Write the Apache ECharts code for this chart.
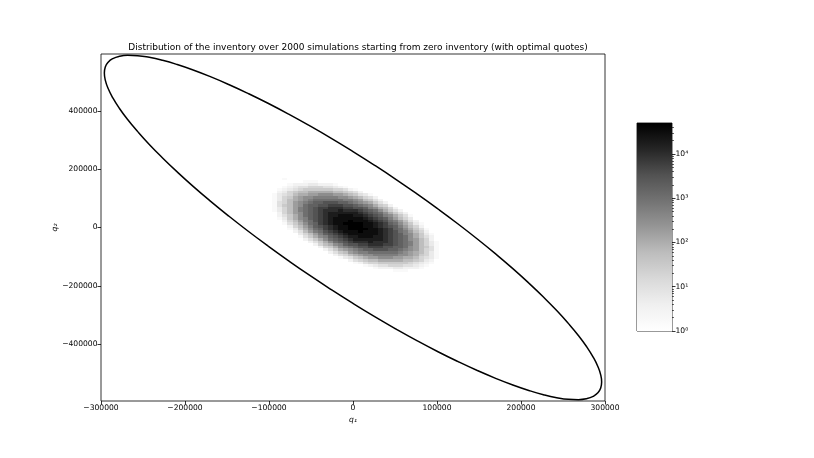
<!DOCTYPE html>
<html>
<head>
<meta charset="utf-8">
<script src="https://cdn.jsdelivr.net/npm/echarts@6.0.0/dist/echarts.min.js"></script>
<style>
  html, body { margin: 0; background: #fff; }
  #chart { width: 814px; height: 458px; }
</style>
</head>
<body>
<div id="chart"></div>
<script>
// histogram bins (data units)
const binX = 6000;
const binY = 9000;
// one letter per cell: 'a' = 10^0, each next letter +0.25 decade, '.' = empty
// [row index, first column index, cells]
const histRows = [
  [19, -13, 'a'],
  [18, -15, 'ab.a..a'],
  [17, -12, 'a.bbbaa'],
  [16, -14, 'abcccddcccb.a'],
  [15, -15, 'abcdeefffeedcba'],
  [14, -15, 'bcdefggggggffecb'],
  [13, -16, 'acdfghhiiiiihhgfeca'],
  [12, -17, 'abdefhiijjkkkjjihgedb'],
  [11, -18, 'a.bdfgijkklllllkkjihfeca'],
  [10, -18, 'a.bdfhijklmmmmmmllkjhgeca'],
  [9, -16, 'befhjklmnnooonnmlkjigeca'],
  [8, -17, 'abeghjkmnnoopppoonmlkigfca'],
  [7, -17, 'abdfhjlmnoppqqqppoonlkihfca'],
  [6, -16, 'bdfhjlmnopqqqrqqqponmkigeca'],
  [5, -16, 'acfhjkmnopqrrrrrrqponmkigec'],
  [4, -19, 'a...cegikmnopqrrsssrrqponlkigeb'],
  [3, -17, 'a.bdgiklnopqrssssssrqponljhfda'],
  [2, -15, 'acfhjlmopqrssstsssrqpomljhec'],
  [1, -16, 'a.begikmnpqrssttttssrqpnmkigdb'],
  [0, -14, 'acfhjlnopqrsstttssrqponljhfca'],
  [-1, -13, 'bdgikmnpqrssttttssrqpnmkigeb.a'],
  [-2, -12, 'cehjlmopqrssstsssrqpomljhfca'],
  [-3, -12, 'adfhjlnopqrssssssrqponlkigdba'],
  [-4, -11, 'begiklnopqrrsssrrqponmkigec'],
  [-5, -10, 'cegikmnopqrrrrrrqponmkjhfca'],
  [-6, -10, 'acegikmnopqqqrqqqponmljhfdb.a'],
  [-7, -9, 'acfhiklnooppqqqpponmljhfdb.a'],
  [-8, -8, 'acfgiklmnoopppoonnmkjhgeba'],
  [-9, -7, 'acegijklmnnooonnmlkjhfeb.a'],
  [-10, -6, 'aceghjkllmmmmmmlkjihfdb.a'],
  [-11, -5, 'acefhijkklllllkkjigfdb'],
  [-12, -3, 'bdeghijjkkkjjiihfedba'],
  [-13, -2, 'acefghhiiiiihhgfdcaa'],
  [-14, 0, 'bceffggggggfedcb'],
  [-15, 1, 'abcdeefffeedcba'],
  [-16, 3, 'abcccddcccba'],
  [-17, 6, 'aabbb.a'],
  [-18, 5, 'a.a..a'],
  [-19, 9, 'a']
];
const levelChars = 'abcdefghijklmnopqrst';

// ellipse outline, points
const ellipse = [
  [148000, -39500], [125100, 12000], [101200, 63400], [76600, 114300],
  [51400, 164400], [25800, 213200], [0, 260400], [-25800, 305600],
  [-51400, 348400], [-76600, 388700], [-101200, 426000], [-125100, 460000],
  [-148000, 490500], [-169800, 517300], [-190300, 540200], [-209300, 558900],
  [-226700, 573400], [-242500, 583600], [-256300, 589200], [-268300, 590300],
  [-278200, 587100], [-285900, 579300], [-291500, 567100], [-294900, 550700],
  [-296000, 530000], [-294900, 505300], [-291500, 476700], [-285900, 444500],
  [-278200, 408900], [-268300, 370300], [-256300, 328800], [-242500, 284800],
  [-226700, 238600], [-209300, 190700], [-190300, 141200], [-169800, 90700],
  [-148000, 39500], [-125100, -12000], [-101200, -63400], [-76600, -114300],
  [-51400, -164400], [-25800, -213200], [0, -260400], [25800, -305600],
  [51400, -348400], [76600, -388700], [101200, -426000], [125100, -460000],
  [148000, -490500], [169800, -517300], [190300, -540200], [209300, -558900],
  [226700, -573400], [242500, -583600], [256300, -589200], [268300, -590300],
  [278200, -587100], [285900, -579300], [291500, -567100], [294900, -550700],
  [296000, -530000], [294900, -505300], [291500, -476700], [285900, -444500],
  [278200, -408900], [268300, -370300], [256300, -328800], [242500, -284800],
  [226700, -238600], [209300, -190700], [190300, -141200], [169800, -90700],
  [148000, -39500]
];

const yTicks = [-400000, -200000, 0, 200000, 400000];
const cbTicks = [1, 10, 100, 1000, 10000];
const cbMinor = [2, 3, 4, 5, 6, 7, 8, 9, 20, 30, 40, 50, 60, 70, 80, 90,
  200, 300, 400, 500, 600, 700, 800, 900, 2000, 3000, 4000, 5000, 6000, 7000, 8000, 9000,
  20000, 30000, 40000];
const cbMax = 50000;
const logMax = 4.7;

const greys = ['#ffffff', '#f0f0f0', '#d9d9d9', '#bdbdbd', '#969696', '#737373', '#525252', '#252525', '#000000'];
const FONT = 'DejaVu Sans';

const cells = [];
histRows.forEach(([j, i0, s]) => {
  for (let k = 0; k < s.length; k++) {
    if (s[k] === '.') continue;
    const i = i0 + k;
    const lv = levelChars.indexOf(s[k]) / 4;
    cells.push([i * binX, (i + 1) * binX, j * binY, (j + 1) * binY, Math.min(lv, logMax)]);
  }
});

const minus = v => String(v).replace('-', '\u2212');
const sup = ['\u2070', '\u00b9', '\u00b2', '\u00b3', '\u2074'];
const tickStyle = { color: '#000', width: 0.8 };
const labelStyle = { fontFamily: FONT, fontSize: 7.6, color: '#000' };
const nameStyle = { fontFamily: FONT, fontSize: 7.6, fontStyle: 'italic', color: '#000' };

const chart = echarts.init(document.getElementById('chart'));
chart.setOption({
  backgroundColor: '#fff',
  animation: false,
  title: {
    text: 'Distribution of the inventory over 2000 simulations starting from zero inventory (with optimal quotes)',
    left: 353,
    top: 38,
    textAlign: 'center',
    textStyle: { fontFamily: FONT, fontSize: 9, fontWeight: 'normal', color: '#000' }
  },
  grid: [
    { left: 101, top: 54, width: 504, height: 347, show: true, borderColor: '#000', borderWidth: 0.8 },
    { left: 637, top: 123, width: 35, height: 208, show: true, borderColor: '#000', borderWidth: 0.8 }
  ],
  visualMap: {
    type: 'continuous',
    show: false,
    seriesIndex: 0,
    dimension: 4,
    min: 0,
    max: logMax,
    inRange: { color: greys }
  },
  xAxis: [
    {
      gridIndex: 0,
      type: 'value',
      min: -300000,
      max: 300000,
      interval: 100000,
      axisLine: { show: false, onZero: false },
      axisTick: { length: 3.5, lineStyle: tickStyle },
      splitLine: { show: false },
      axisLabel: Object.assign({ formatter: minus, margin: 3.5, showMinLabel: true, showMaxLabel: true }, labelStyle),
      name: 'q\u2081',
      nameLocation: 'middle',
      nameGap: 15,
      nameMoveOverlap: false,
      nameTextStyle: nameStyle
    },
    { gridIndex: 1, type: 'value', min: 0, max: 1, show: false }
  ],
  yAxis: [
    {
      gridIndex: 0,
      type: 'value',
      min: -595000,
      max: 595000,
      axisLine: { show: false, onZero: false },
      axisTick: { customValues: yTicks, length: 3.5, lineStyle: tickStyle },
      splitLine: { show: false },
      axisLabel: Object.assign({ customValues: yTicks, formatter: minus, margin: 3.5 }, labelStyle),
      name: 'q\u2082',
      nameLocation: 'middle',
      nameGap: 42,
      nameMoveOverlap: false,
      nameTextStyle: nameStyle
    },
    {
      gridIndex: 1,
      type: 'log',
      logBase: 10,
      min: 1,
      max: cbMax,
      position: 'right',
      axisLine: { show: false, onZero: false },
      axisTick: { customValues: cbTicks, length: 3.5, lineStyle: tickStyle },
      splitLine: { show: false },
      axisLabel: Object.assign({
        customValues: cbTicks,
        margin: 3.5,
        formatter: v => '10' + sup[Math.round(Math.log10(v))]
      }, labelStyle)
    },
    {
      gridIndex: 1,
      type: 'log',
      logBase: 10,
      min: 1,
      max: cbMax,
      position: 'right',
      axisLine: { show: false, onZero: false },
      axisTick: { customValues: cbMinor, length: 2, lineStyle: { color: '#000', width: 0.6 } },
      splitLine: { show: false },
      axisLabel: { show: false }
    }
  ],
  series: [
    {
      type: 'custom',
      xAxisIndex: 0,
      yAxisIndex: 0,
      silent: true,
      z: 2,
      encode: { x: [0, 1], y: [2, 3] },
      data: cells,
      renderItem(params, api) {
        const a = api.coord([api.value(0), api.value(3)]);
        const b = api.coord([api.value(1), api.value(2)]);
        const x = Math.round(a[0]);
        const y = Math.round(a[1]);
        return {
          type: 'rect',
          shape: { x: x, y: y, width: Math.round(b[0]) - x, height: Math.round(b[1]) - y },
          style: { fill: api.visual('color') }
        };
      }
    },
    {
      type: 'line',
      xAxisIndex: 0,
      yAxisIndex: 0,
      data: ellipse,
      smooth: true,
      symbol: 'none',
      silent: true,
      z: 3,
      lineStyle: { color: '#000', width: 1.5 }
    },
    {
      type: 'custom',
      xAxisIndex: 1,
      yAxisIndex: 1,
      silent: true,
      data: [[0, 1, 1, cbMax]],
      renderItem(params, api) {
        const lo = api.coord([api.value(0), api.value(2)]);
        const hi = api.coord([api.value(1), api.value(3)]);
        return {
          type: 'rect',
          shape: { x: lo[0], y: hi[1], width: hi[0] - lo[0], height: lo[1] - hi[1] },
          style: {
            fill: new echarts.graphic.LinearGradient(0, 1, 0, 0,
              greys.map((c, n) => ({ offset: n / (greys.length - 1), color: c })))
          }
        };
      }
    }
  ]
});
</script>
</body>
</html>
